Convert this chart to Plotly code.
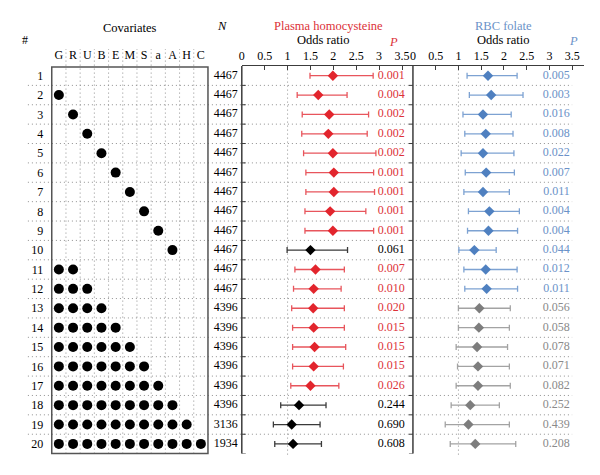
import plotly.graph_objects as go

# ---------------- data ----------------
rows = list(range(1, 21))
covariate_letters = ["G", "R", "U", "B", "E", "M", "S", "a", "A", "H", "C"]
covariates_in_model = [
    [], ["G"], ["R"], ["U"], ["B"], ["E"], ["M"], ["S"], ["a"], ["A"],
    ["G", "R"],
    ["G", "R", "U"],
    ["G", "R", "U", "B"],
    ["G", "R", "U", "B", "E"],
    ["G", "R", "U", "B", "E", "M"],
    ["G", "R", "U", "B", "E", "M", "S"],
    ["G", "R", "U", "B", "E", "M", "S", "a"],
    ["G", "R", "U", "B", "E", "M", "S", "a", "A"],
    ["G", "R", "U", "B", "E", "M", "S", "a", "A", "H"],
    ["G", "R", "U", "B", "E", "M", "S", "a", "A", "H", "C"],
]
n_values = [4467] * 12 + [4396] * 6 + [3136, 1934]

hcy_or = [1.99, 1.67, 1.91, 1.89, 1.99, 2.01, 2.01, 1.93, 1.99, 1.50,
          1.61, 1.57, 1.56, 1.57, 1.59, 1.57, 1.50, 1.25, 1.09, 1.12]
hcy_lo = [1.49, 1.21, 1.32, 1.31, 1.35, 1.40, 1.40, 1.38, 1.38, 0.99,
          1.16, 1.13, 1.09, 1.11, 1.11, 1.11, 1.07, 0.85, 0.69, 0.72]
hcy_hi = [2.87, 2.30, 2.77, 2.74, 2.93, 2.88, 2.90, 2.71, 2.88, 2.31,
          2.24, 2.17, 2.24, 2.24, 2.27, 2.22, 2.12, 1.84, 1.71, 1.74]
hcy_p = ["0.001", "0.004", "0.002", "0.002", "0.002", "0.001", "0.001", "0.001", "0.001", "0.061",
         "0.007", "0.010", "0.020", "0.015", "0.015", "0.015", "0.026", "0.244", "0.690", "0.608"]

rbc_or = [1.65, 1.72, 1.54, 1.60, 1.54, 1.61, 1.54, 1.68, 1.66, 1.35,
          1.60, 1.62, 1.46, 1.45, 1.41, 1.43, 1.43, 1.26, 1.22, 1.37]
rbc_lo = [1.19, 1.24, 1.10, 1.14, 1.06, 1.15, 1.12, 1.22, 1.20, 1.01,
          1.12, 1.14, 1.00, 1.00, 0.95, 0.98, 0.95, 0.84, 0.71, 0.82]
rbc_hi = [2.29, 2.42, 2.16, 2.20, 2.22, 2.23, 2.12, 2.34, 2.30, 1.83,
          2.29, 2.30, 2.14, 2.12, 2.08, 2.12, 2.14, 1.90, 2.12, 2.26]
rbc_p = ["0.005", "0.003", "0.016", "0.008", "0.022", "0.007", "0.011", "0.004", "0.004", "0.044",
         "0.012", "0.011", "0.056", "0.058", "0.078", "0.071", "0.082", "0.252", "0.439", "0.208"]

or_ticks = [0, 0.5, 1, 1.5, 2, 2.5, 3, 3.5]
or_ticktext = ["0", "0.5", "1", "1.5", "2", "2.5", "3", "3.5"]

# ---------------- style ----------------
W, H = 600, 475
SERIF = "Liberation Serif, DejaVu Serif, serif"
RED, RED_LINE, RED_TXT = "#e2252d", "#e8555c", "#dc3138"
BLUE, BLUE_LINE, BLUE_TXT = "#4f80c0", "#7da2d2", "#6b92c8"
GREY, GREY_LINE, GREY_TXT = "#7d7d7d", "#a3a3a3", "#8a8a8a"
BLACK, BLACK_LINE = "#000000", "#3a3a3a"
DOT = "#8f8f8f"
DOTDASH = "1px,3px"
AXC = "#3c3c3c"


def px(x):
    return x / W


def py(y):
    return 1 - y / H


TOP, BOT = 66, 453.6
Y_DOM = [py(BOT), py(TOP)]

fig = go.Figure()

# covariate dots
cx, cy = [], []
for r, covs in zip(rows, covariates_in_model):
    for c in covs:
        cx.append(covariate_letters.index(c) + 1)
        cy.append(r)
fig.add_trace(go.Scatter(x=cx, y=cy, mode="markers", xaxis="x", yaxis="y",
                         marker=dict(symbol="circle", size=10, color="black"),
                         hoverinfo="skip", showlegend=False))

# N column
fig.add_trace(go.Scatter(x=[1] * len(rows), y=rows, mode="text", xaxis="x4", yaxis="y",
                         text=[str(n) for n in n_values], textposition="middle left",
                         textfont=dict(family=SERIF, size=12, color="black"),
                         hoverinfo="skip", showlegend=False))


def forest(xax, ors, los, his, pvals, sig_col, sig_line, ns_col, ns_line):
    groups = [(True, sig_col, sig_line), (False, ns_col, ns_line)]
    for sig, col, lcol in groups:
        idx = [i for i, p in enumerate(pvals) if (float(p) < 0.05) == sig]
        if not idx:
            continue
        fig.add_trace(go.Scatter(
            x=[ors[i] for i in idx], y=[rows[i] for i in idx], mode="markers",
            xaxis=xax, yaxis="y",
            marker=dict(symbol="diamond", size=8, color=col),
            error_x=dict(type="data", symmetric=False,
                         array=[his[i] - ors[i] for i in idx],
                         arrayminus=[ors[i] - los[i] for i in idx],
                         color=lcol, thickness=1.3, width=3),
            hoverinfo="skip", showlegend=False))


forest("x2", hcy_or, hcy_lo, hcy_hi, hcy_p, RED, RED_LINE, BLACK, BLACK_LINE)
forest("x3", rbc_or, rbc_lo, rbc_hi, rbc_p, BLUE, BLUE_LINE, GREY, GREY_LINE)

# P-value text
fig.add_trace(go.Scatter(x=[3.56] * 20, y=rows, mode="text", xaxis="x2", yaxis="y",
                         text=hcy_p, textposition="middle left",
                         textfont=dict(family=SERIF, size=12,
                                       color=[RED_TXT if float(p) < 0.05 else "black" for p in hcy_p]),
                         hoverinfo="skip", showlegend=False))
fig.add_trace(go.Scatter(x=[3.45] * 20, y=rows, mode="text", xaxis="x3", yaxis="y",
                         text=rbc_p, textposition="middle left",
                         textfont=dict(family=SERIF, size=12,
                                       color=[BLUE_TXT if float(p) < 0.05 else GREY_TXT for p in rbc_p]),
                         hoverinfo="skip", showlegend=False))

# ---------------- shapes ----------------
shapes = []
# horizontal dotted separators between rows
for b in [r + 0.5 for r in rows[:-1]]:
    shapes.append(dict(type="line", xref="paper", yref="y", x0=px(25), x1=px(572), y0=b, y1=b,
                       line=dict(color=DOT, width=1, dash=DOTDASH), layer="below"))
# vertical dotted separators in covariate panel
for k in range(1, len(covariate_letters)):
    shapes.append(dict(type="line", xref="x", yref="paper", x0=k + 0.5, x1=k + 0.5,
                       y0=py(BOT), y1=py(49),
                       line=dict(color=DOT, width=1, dash=DOTDASH), layer="below"))
# covariate box
shapes.append(dict(type="rect", xref="paper", yref="paper", x0=px(49), x1=px(206),
                   y0=py(BOT), y1=py(67), line=dict(color="#555555", width=1.5)))
# reference lines at OR = 1
for xr in ["x2", "x3"]:
    shapes.append(dict(type="line", xref=xr, yref="paper", x0=1, x1=1, y0=py(BOT + 1), y1=py(TOP),
                       line=dict(color=DOT, width=1, dash=DOTDASH), layer="below"))
# solid panel borders
for xb in [240, 412]:
    shapes.append(dict(type="line", xref="paper", yref="paper", x0=px(xb), x1=px(xb),
                       y0=py(BOT), y1=py(TOP), line=dict(color=AXC, width=1.5)))
# small ticks on panel borders
for b in [r + 0.5 for r in rows]:
    shapes.append(dict(type="line", xref="paper", yref="y", x0=px(240), x1=px(244), y0=b, y1=b,
                       line=dict(color=AXC, width=1)))
    shapes.append(dict(type="line", xref="paper", yref="y", x0=px(408), x1=px(412), y0=b, y1=b,
                       line=dict(color=AXC, width=1)))

# ---------------- annotations ----------------
def ann(text, x, y, color="black", size=12, italic=False):
    return dict(text=text, x=px(x), y=py(y), xref="paper", yref="paper", showarrow=False,
                xanchor="center", yanchor="middle",
                font=dict(family=SERIF, size=size, color=color,
                          style="italic" if italic else "normal"))


annotations = [
    ann("#", 22, 40, size=12),
    ann("Covariates", 128, 28, size=12.5),
    ann("N", 220, 26, size=12.5, italic=True),
    ann("Plasma homocysteine", 327, 26.5, color=RED_TXT, size=12.5),
    ann("Odds ratio", 322, 40.5, size=12.5),
    ann("P", 392, 42, color=RED_TXT, size=12.5, italic=True),
    ann("RBC folate", 503, 26.5, color=BLUE_TXT, size=12.5),
    ann("Odds ratio", 503, 40.5, size=12.5),
    ann("P", 573, 41, color=BLUE_TXT, size=12.5, italic=True),
]

tickfont = dict(family=SERIF, size=12, color="black")
or_axis = dict(anchor="y", side="top", showline=True, linecolor=AXC, linewidth=1.5,
               ticks="inside", ticklen=4, tickcolor=AXC, tickwidth=1,
               tickvals=or_ticks, ticktext=or_ticktext, tickfont=tickfont,
               showgrid=False, zeroline=False, fixedrange=True)

fig.update_layout(
    width=W, height=H,
    margin=dict(l=0, r=0, t=0, b=0),
    paper_bgcolor="white", plot_bgcolor="rgba(0,0,0,0)",
    showlegend=False,
    xaxis=dict(domain=[px(49), px(206)], range=[0.5, 11.5], anchor="y", side="top",
               tickvals=list(range(1, 12)), ticktext=covariate_letters, tickfont=tickfont,
               ticks="", ticklen=0, ticklabelstandoff=4,
               showline=False, showgrid=False, zeroline=False, fixedrange=True),
    xaxis2=dict(domain=[px(240), px(412)], range=[0, 3.739], **or_axis),
    xaxis3=dict(domain=[px(412), px(584)], range=[0, 3.7625], **or_axis),
    xaxis4=dict(domain=[px(205), px(236)], range=[0, 1], anchor="y", visible=False, fixedrange=True),
    yaxis=dict(domain=Y_DOM, range=[20.5, 0.5], anchor="x", tickvals=rows,
               ticktext=[str(r) for r in rows], tickfont=tickfont,
               ticks="outside", ticklen=5, tickcolor="rgba(0,0,0,0)",
               showline=False, showgrid=False, zeroline=False, fixedrange=True),
    shapes=shapes,
    annotations=annotations,
)

fig.write_html("out.html",
               config={"displayModeBar": False, "staticPlot": True},
               post_script="document.body.style.margin='0';document.body.style.padding='0';")
